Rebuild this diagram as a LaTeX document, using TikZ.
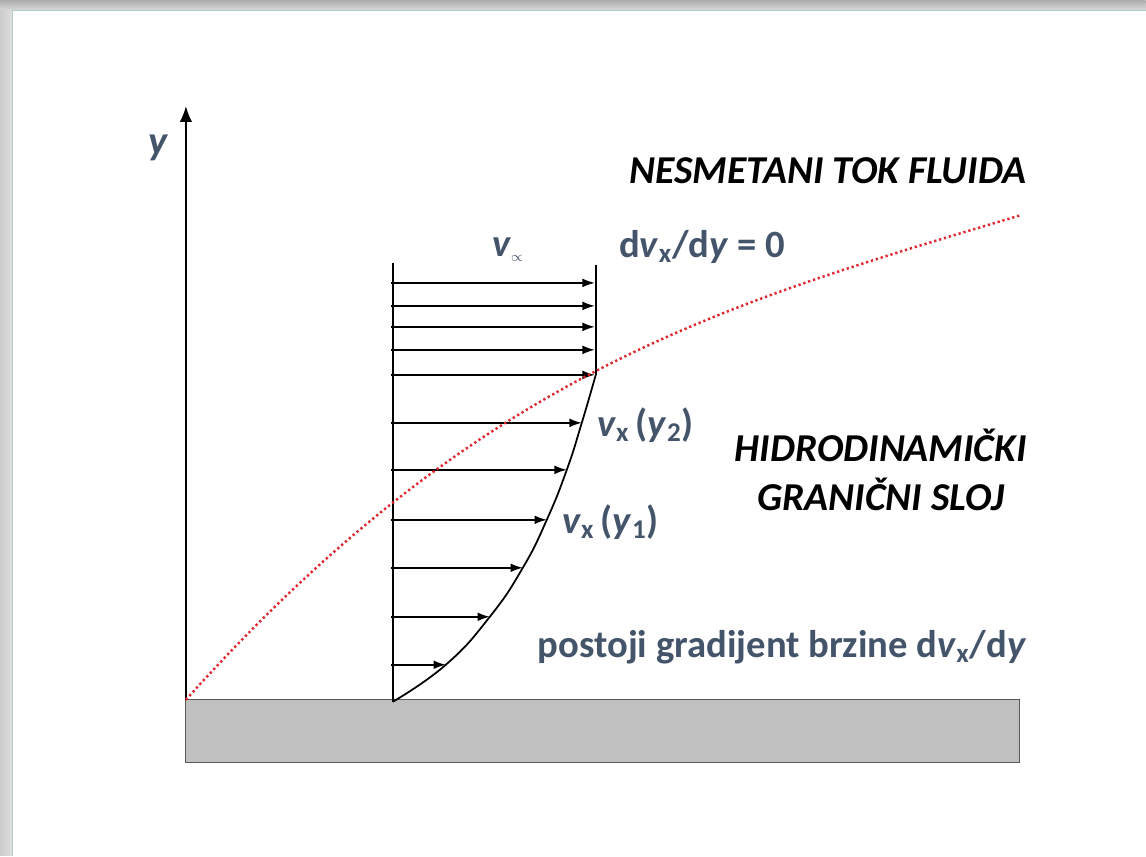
\documentclass[tikz,border=0pt]{standalone}
\usepackage{fontspec}
\setmainfont{Carlito}
\usetikzlibrary{arrows.meta}
\definecolor{labelblue}{HTML}{44546A}
\definecolor{wallgray}{HTML}{C0C0C0}
\definecolor{edgered}{HTML}{E0262E}

\begin{document}
\begin{tikzpicture}[x=0.02cm, y=-0.02cm,
    axis/.style={line width=1.1pt, -{Latex[length=9pt, width=7pt]}},
    profile/.style={line width=1pt},
    vec/.style={line width=0.85pt, -{Latex[length=7pt, width=5pt]}},
    bluelabel/.style={text=labelblue, inner sep=0pt, font=\bfseries\fontsize{22}{26}\selectfont},
    zonelabel/.style={inner sep=0pt, align=center, font=\bfseries\itshape\fontsize{22.5}{28}\selectfont},
    edge/.style={edgered, line width=1.4pt, dash pattern=on 1.3pt off 1.6pt}]

% Okvir slajda sa sjenom
\fill[white] (0,0) rectangle (1146,856);
\shade[top color=gray!65, bottom color=gray!30] (0,0) rectangle (1146,10);
\shade[left color=gray!40, right color=gray!25] (0,10) rectangle (12,856);
\draw[gray!55!teal!40, line width=0.5pt] (1146,10) -- (12,10) -- (12,856);

% Zid (ploca)
\draw[gray!70!black, line width=0.6pt, fill=wallgray] (186,700) rectangle (1020,763);

% Osa y
\coordinate (origin) at (186,700);
\coordinate (ytip) at (186,106);
\draw[axis] (origin) -- (ytip);
\node[bluelabel, font=\bfseries\itshape\fontsize{23}{26}\selectfont] (ylab) at (158,148) {y};

% Profil brzine
\coordinate (base) at (393,702);
\coordinate (top) at (393,263);
\coordinate (edgetop) at (596,265);
\coordinate (joint) at (596,375);
\draw[profile] (base) -- (top);
\draw[profile] (edgetop) -- (joint);
\draw[profile] plot[smooth, tension=0.8] coordinates {(joint) (582,423) (567,470) (547,520) (523,568) (490,617) (446,665) (base)};

% Vektori brzine
\foreach \yy in {283,306,327,350,375}
    \draw[vec] (391,\yy) -- (595,\yy);
\foreach \yy/\xx in {423/582,470/567,520/547,568/523,617/490,665/446}
    \draw[vec] (391,\yy) -- (\xx,\yy);

% Granica granicnog sloja
\draw[edge] (origin) .. controls (480,372) and (722,305) .. (1022,215);

% Oznake
\node[bluelabel, anchor=west] (vinf) at (492,250) {\textit{v}\raisebox{-3pt}{\fontsize{8}{8}\selectfont$\propto$}};
\node[bluelabel, anchor=west] (grad0) at (619,247) {d\textit{v}\textsubscript{x}/d\textit{y} = 0};
\node[bluelabel, anchor=west] (vy2) at (597,425) {\textit{v}\textsubscript{x}\,(\textit{y}\textsubscript{2})};
\node[bluelabel, anchor=west] (vy1) at (562,522) {\textit{v}\textsubscript{x}\,(\textit{y}\textsubscript{1})};
\node[bluelabel, anchor=east] (gradient) at (1027,647) {postoji gradijent brzine d\textit{v}\textsubscript{x}/d\textit{y}};

\node[zonelabel, anchor=east] (free) at (1027,171) {NESMETANI TOK FLUIDA};
\node[zonelabel] (layer) at (881,470) {HIDRODINAMIČKI\\GRANIČNI SLOJ};
\end{tikzpicture}
\end{document}
